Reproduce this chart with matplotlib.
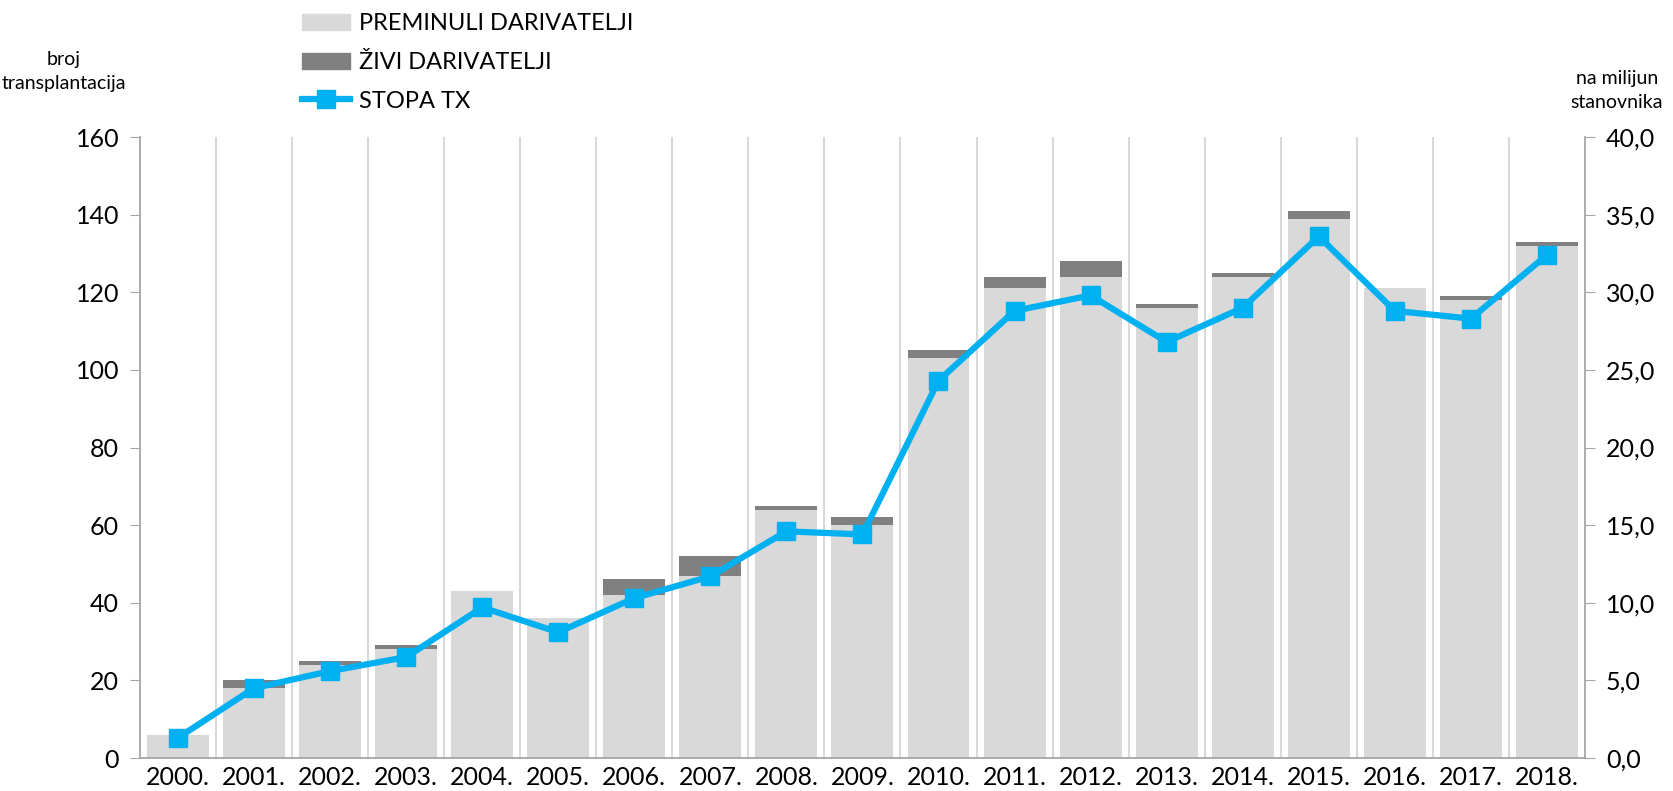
import matplotlib.pyplot as plt
from matplotlib.patches import Patch
from matplotlib.lines import Line2D
from matplotlib.ticker import FuncFormatter

plt.rcParams['font.family'] = ['Lato', 'DejaVu Sans']

years = ['2000.', '2001.', '2002.', '2003.', '2004.', '2005.', '2006.', '2007.', '2008.', '2009.',
         '2010.', '2011.', '2012.', '2013.', '2014.', '2015.', '2016.', '2017.', '2018.']
preminuli = [6, 18, 24, 28, 43, 36, 42, 47, 64, 60, 103, 121, 124, 116, 124, 139, 121, 118, 132]
zivi = [0, 2, 1, 1, 0, 0, 4, 5, 1, 2, 2, 3, 4, 1, 1, 2, 0, 1, 1]
stopa = [1.3, 4.5, 5.6, 6.5, 9.7, 8.1, 10.3, 11.7, 14.6, 14.4,
         24.3, 28.8, 29.8, 26.8, 29.0, 33.6, 28.8, 28.3, 32.4]

light = '#d9d9d9'
dark = '#808080'
blue = '#00b0f0'
axis_grey = '#a6a6a6'

fig = plt.figure(figsize=(16.74, 7.91), dpi=100)
ax = fig.add_axes([0.0836, 0.0417, 0.8632, 0.7851])
x = list(range(len(years)))

ax.bar(x, preminuli, width=0.815, color=light, zorder=2)
ax.bar(x, zivi, width=0.815, bottom=preminuli, color=dark, zorder=2)

for k in range(len(years) - 1):
    ax.axvline(k + 0.5, color=light, lw=1.5, zorder=1)

ax.set_xlim(-0.5, len(years) - 0.5)
ax.set_ylim(0, 160)
ax.set_yticks(range(0, 161, 20))
ax.set_xticks(x)
ax.set_xticklabels(years)
ax.tick_params(axis='x', length=0, labelsize=18, pad=6)
ax.tick_params(axis='y', length=7, color=axis_grey, labelsize=18, pad=8)
for s in ['top', 'right']:
    ax.spines[s].set_visible(False)
for s in ['left', 'bottom']:
    ax.spines[s].set_color(axis_grey)
    ax.spines[s].set_linewidth(1.3)

ax2 = ax.twinx()
ax2.plot(x, stopa, color=blue, lw=4.5, marker='s', markersize=13, zorder=5)
ax2.set_ylim(0, 40)
ax2.set_yticks(range(0, 41, 5))
ax2.yaxis.set_major_formatter(FuncFormatter(lambda v, p: f'{v:.1f}'.replace('.', ',')))
ax2.tick_params(axis='y', length=7, color=axis_grey, labelsize=18, pad=8)
for s in ['top', 'left', 'bottom']:
    ax2.spines[s].set_visible(False)
ax2.spines['right'].set_color(axis_grey)
ax2.spines['right'].set_linewidth(1.3)

fig.text(0.038, 0.91, 'broj\ntransplantacija', ha='center', va='center', fontsize=14, linespacing=1.5)
fig.text(0.966, 0.885, 'na milijun\nstanovnika', ha='center', va='center', fontsize=14, linespacing=1.5)

handles = [Patch(color=light), Patch(color=dark),
           Line2D([], [], color=blue, lw=4.5, marker='s', markersize=13)]
labels = ['PREMINULI DARIVATELJI', 'ŽIVI DARIVATELJI', 'STOPA TX']
fig.legend(handles, labels, loc='upper left', bbox_to_anchor=(0.168, 1.01), frameon=False,
           fontsize=17, labelspacing=0.75, handlelength=2.0, handletextpad=0.4)

fig.savefig('out.png', dpi=100)
